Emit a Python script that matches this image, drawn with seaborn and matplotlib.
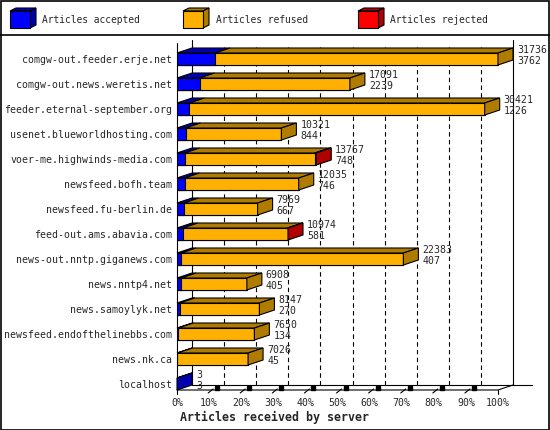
import numpy as np
import pandas as pd
import matplotlib
matplotlib.use("Agg")
import matplotlib.pyplot as plt
import seaborn as sns
from matplotlib.patches import Polygon, Rectangle

# data
servers = [
    "comgw-out.feeder.erje.net",
    "comgw-out.news.weretis.net",
    "feeder.eternal-september.org",
    "usenet.blueworldhosting.com",
    "voer-me.highwinds-media.com",
    "newsfeed.bofh.team",
    "newsfeed.fu-berlin.de",
    "feed-out.ams.abavia.com",
    "news-out.nntp.giganews.com",
    "news.nntp4.net",
    "news.samoylyk.net",
    "newsfeed.endofthelinebbs.com",
    "news.nk.ca",
    "localhost",
]
totals = [31736, 17091, 30421, 10321, 13767, 12035, 7969, 10974, 22383, 6908, 8147, 7650, 7026, 3]
accepted = [3762, 2239, 1226, 844, 748, 746, 667, 581, 407, 405, 270, 134, 45, 3]
rejected = [0, 0, 0, 0, 150, 0, 0, 30, 0, 0, 0, 0, 0, 0]

legend_labels = ["Articles accepted", "Articles refused", "Articles rejected"]
tick_labels = [f"{p}%" for p in range(0, 101, 10)]

front_cols = ["#0000FF", "#FFB000", "#FF0000"]
dark_cols = ["#0000B0", "#B07C00", "#B00000"]

df = pd.DataFrame({"server": servers, "total": totals,
                   "accepted": accepted, "rejected": rejected})
df["refused"] = df["total"] - df["accepted"] - df["rejected"]
scale = 100.0 / df["total"].max()
df["acc_pct"] = df["accepted"] * scale
df["ar_pct"] = (df["accepted"] + df["refused"]) * scale
df["tot_pct"] = df["total"] * scale

sns.set_style("white")
plt.rcParams["font.family"] = ["DejaVu Sans Mono"]
fs = 7.1

W, H = 550, 430
fig = plt.figure(figsize=(W / 100, H / 100), dpi=100)

# pixel geometry of the plot area
x0px, x100px, xrpx = 177, 498, 545
ytop, ybot = 35, 390
ppx = (x100px - x0px) / 100.0      # pixels per percent
ppy = 25.0                         # pixels per row
ax = fig.add_axes([x0px / W, (H - ybot) / H, (xrpx - x0px) / W, (ybot - ytop) / H])

bh = 0.48
sns.barplot(data=df, x="tot_pct", y="server", orient="h", color=front_cols[2],
            width=bh, edgecolor="black", linewidth=0.8, saturation=1, ax=ax, zorder=3)
sns.barplot(data=df, x="ar_pct", y="server", orient="h", color=front_cols[1],
            width=bh, edgecolor="black", linewidth=0.8, saturation=1, ax=ax, zorder=3)
sns.barplot(data=df, x="acc_pct", y="server", orient="h", color=front_cols[0],
            width=bh, edgecolor="black", linewidth=0.8, saturation=1, ax=ax, zorder=3)

y_lo = 13 + 6 / ppy
y_hi = -24 / ppy
ax.set_xlim(0, (xrpx - x0px) / ppx)
ax.set_ylim(y_lo, y_hi)

DX = 15 / ppx
DY = 5 / ppy

# depth faces
for i, r in df.iterrows():
    yt = i - bh / 2
    yb = i + bh / 2
    segs = [(0, r["acc_pct"]), (r["acc_pct"], r["ar_pct"]), (r["ar_pct"], r["tot_pct"])]
    last = 0
    for k, (a, b) in enumerate(segs):
        if b - a > 1e-9:
            ax.add_patch(Polygon([(a, yt), (b, yt), (b + DX, yt - DY), (a + DX, yt - DY)],
                                 closed=True, facecolor=dark_cols[k], edgecolor="black",
                                 linewidth=0.8, zorder=4, clip_on=False))
            last = k
    xe = r["tot_pct"]
    ax.add_patch(Polygon([(xe, yt), (xe + DX, yt - DY), (xe + DX, yb - DY), (xe, yb)],
                         closed=True, facecolor=dark_cols[last], edgecolor="black",
                         linewidth=0.8, zorder=4, clip_on=False))
    tx = xe + DX + 4 / ppx
    ax.text(tx, i - 0.36, f"{r['total']}", fontsize=fs, va="center", ha="left", zorder=5)
    ax.text(tx, i + 0.07, f"{r['accepted']}", fontsize=fs, va="center", ha="left", zorder=5)

# back wall and floor
wall_top = y_hi + 5 / ppy
grid_top = y_hi + 12 / ppy
floor_back = y_lo - DY
for p in range(10, 100, 10):
    ax.plot([p + DX, p + DX], [floor_back, grid_top], color="black", lw=0.8,
            ls=(0, (4, 3)), zorder=1)
ax.plot([DX, DX], [floor_back, wall_top], color="black", lw=0.8, zorder=1)
ax.plot([100 + DX, 100 + DX], [floor_back, wall_top], color="black", lw=0.8, zorder=1)
ax.plot([0, 0], [y_lo + 4 / ppy, y_hi + 8 / ppy], color="black", lw=0.8, zorder=2,
        clip_on=False)
ax.plot([0, 100, 100 + DX], [y_lo, y_lo, floor_back], color="black", lw=0.8, zorder=2,
        clip_on=False)
ax.plot([DX, (532 - x0px) / ppx], [floor_back, floor_back], color="black", lw=0.8,
        zorder=2, clip_on=False)
for p in range(10, 100, 10):
    ax.plot([p - 1 / ppx, p + 4 / ppx], [y_lo + 3 / ppy, y_lo - 1 / ppy], color="black",
            lw=0.8, zorder=2, clip_on=False)
    ax.plot([p + 8 / ppx], [y_lo - 2.5 / ppy], marker="s", ms=2.2, color="black",
            zorder=2, clip_on=False)
ax.plot([100, 100], [y_lo, y_lo + 4 / ppy], color="black", lw=0.8, zorder=2, clip_on=False)

for s in ax.spines.values():
    s.set_visible(False)
ax.set_xticks(range(0, 101, 10))
ax.set_xticklabels(tick_labels, fontsize=fs)
ax.tick_params(axis="x", length=0, pad=6)
ax.tick_params(axis="y", length=0, pad=3.5, labelsize=fs)
ax.set_ylabel("")
ax.set_xlabel("Articles received by server", fontsize=8.4, fontweight="bold",
              loc="left", labelpad=2)
ax.xaxis.label.set_x(3 / (xrpx - x0px))

# legend strip
lax = fig.add_axes([0, (H - 34) / H, 1, 34 / H])
lax.set_xlim(0, W)
lax.set_ylim(34, 0)
lax.axis("off")
for k, (lx, tx) in enumerate([(10, 42), (183, 216), (358, 390)]):
    fx1, fy0, fy1 = lx + 20, 11, 28
    lax.add_patch(Polygon([(lx, fy0), (fx1, fy0), (fx1 + 6, fy0 - 3), (lx + 6, fy0 - 3)],
                          facecolor=dark_cols[k], edgecolor="black", lw=0.8))
    lax.add_patch(Polygon([(fx1, fy0), (fx1 + 6, fy0 - 3), (fx1 + 6, fy1 - 3), (fx1, fy1)],
                          facecolor=dark_cols[k], edgecolor="black", lw=0.8))
    lax.add_patch(Rectangle((lx, fy0), 20, fy1 - fy0, facecolor=front_cols[k],
                            edgecolor="black", lw=0.8))
    lax.text(tx, 20, legend_labels[k], fontsize=6.9, va="center", ha="left")

# figure border and separator
fig.add_artist(Rectangle((0.5 / W, 0.5 / H), (W - 1.5) / W, (H - 1.5) / H,
                         transform=fig.transFigure, fill=False, edgecolor="black", lw=1.2))
fig.add_artist(plt.Line2D([0, 1], [(H - 34.5) / H, (H - 34.5) / H],
                          transform=fig.transFigure, color="black", lw=1.2))

fig.savefig("out.png", dpi=100)
